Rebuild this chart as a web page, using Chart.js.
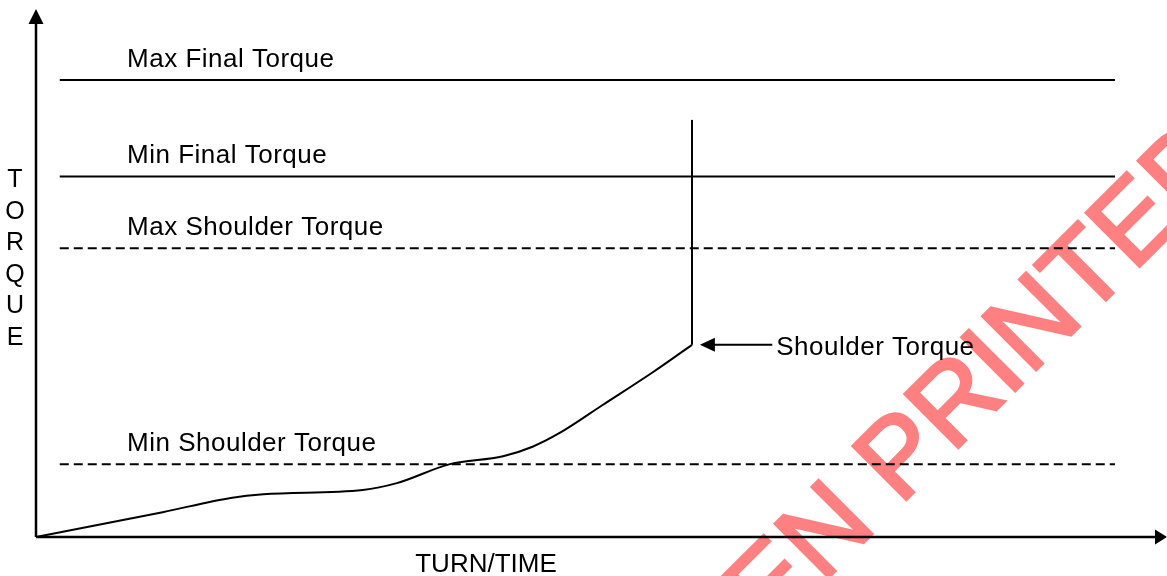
<!DOCTYPE html>
<html>
<head>
<meta charset="utf-8">
<script src="https://cdn.jsdelivr.net/npm/chart.js@4.4.1/dist/chart.umd.min.js"></script>
<style>
  html,body{margin:0;padding:0;background:#fff;}
  #wrap{width:1167px;height:576px;position:relative;}
</style>
</head>
<body>
<div id="wrap"><canvas id="chart" width="1167" height="576"></canvas></div>
<script>
// curve: turn (x) vs torque (y), axis units 0..100
const turnVals=[0,11.2,17.2,20.1,28.9,31.9,36.6,41.3,43.9,46.3,50.1,54.6,58.0];
const torqueVals=[0,4.7,7.4,8.1,8.9,10.2,13.8,15.3,17.1,19.7,25.0,31.3,36.4];
// vertical rise after the shoulder
const riseX=[58.0,58.0];
const riseY=[36.4,79.0];
// limit lines
const limitNames=["Max Final Torque","Min Final Torque","Max Shoulder Torque","Min Shoulder Torque"];
const limitVals=[86.55,68.3,54.7,13.8];
const limitDashed=[false,false,true,true];
const limitStart=2.1, limitEnd=95.4, limitLabelX=8.05;
// annotation
const shoulderLabel="Shoulder Torque";
const shoulderPoint=[58.7,36.4];
const shoulderTail=65.1;
const xTitle="TURN/TIME", yTitle="TORQUE";
const watermark1="UNCONTROLLED WHEN ", watermark2="PRINTED";

const FONT="'Liberation Sans', Arial, sans-serif";

const datasets=[];
limitVals.forEach((v,i)=>{
  datasets.push({
    label:limitNames[i],
    data:[{x:limitStart,y:v},{x:limitEnd,y:v}],
    borderColor:"#000",borderWidth:2,pointRadius:0,
    borderDash:limitDashed[i]?[9,5]:[],clip:false
  });
});
datasets.push({
  label:"curve",
  data:turnVals.map((x,i)=>({x,y:torqueVals[i]})),
  borderColor:"#000",borderWidth:2,pointRadius:0,
  cubicInterpolationMode:"monotone",clip:false
});
datasets.push({
  label:"rise",
  data:riseX.map((x,i)=>({x,y:riseY[i]})),
  borderColor:"#000",borderWidth:2,pointRadius:0,clip:false
});

function arrowHead(ctx,tx,ty,dir,len,half){
  // dir: 'up','right','left'
  ctx.beginPath();
  ctx.moveTo(tx,ty);
  if(dir==="up"){ctx.lineTo(tx-half,ty+len);ctx.lineTo(tx+half,ty+len);}
  else if(dir==="right"){ctx.lineTo(tx-len,ty-half);ctx.lineTo(tx-len,ty+half);}
  else {ctx.lineTo(tx+len,ty-half);ctx.lineTo(tx+len,ty+half);}
  ctx.closePath();ctx.fill();
}

const decor={
  id:"decor",
  beforeDraw(chart){
    const ctx=chart.ctx;
    ctx.save();
    ctx.fillStyle="#fff";ctx.fillRect(0,0,chart.width,chart.height);
    // watermark behind everything
    ctx.translate(900,506);
    ctx.rotate(-Math.PI/4);
    ctx.font="110px "+FONT;
    ctx.fillStyle="#ff8080";ctx.strokeStyle="#ff8080";
    ctx.lineWidth=3;ctx.lineJoin="miter";
    ctx.textBaseline="alphabetic";
    ctx.textAlign="right";ctx.fillText(watermark1,0,0);ctx.strokeText(watermark1,0,0);
    ctx.textAlign="left";ctx.fillText(watermark2,0,0);ctx.strokeText(watermark2,0,0);
    ctx.restore();
  },
  afterDatasetsDraw(chart){
    const ctx=chart.ctx,xs=chart.scales.x,ys=chart.scales.y,a=chart.chartArea;
    ctx.save();
    ctx.strokeStyle="#000";ctx.fillStyle="#000";
    // axes
    ctx.lineWidth=2.5;
    ctx.beginPath();
    ctx.moveTo(a.left,a.bottom);ctx.lineTo(a.left,a.top+10);
    ctx.moveTo(a.left,a.bottom);ctx.lineTo(a.right-10,a.bottom);
    ctx.stroke();
    arrowHead(ctx,a.left,a.top,"up",15,7.5);
    arrowHead(ctx,a.right,a.bottom,"right",12,7.5);
    // limit labels
    ctx.font="26px "+FONT;
    ctx.letterSpacing="0.5px";
    ctx.textAlign="left";ctx.textBaseline="alphabetic";
    limitVals.forEach((v,i)=>{
      ctx.fillText(limitNames[i],xs.getPixelForValue(limitLabelX),ys.getPixelForValue(v)-13);
    });
    // shoulder annotation
    const tx=xs.getPixelForValue(shoulderPoint[0]),ty=ys.getPixelForValue(shoulderPoint[1]);
    const ex=xs.getPixelForValue(shoulderTail);
    ctx.lineWidth=2;
    ctx.beginPath();ctx.moveTo(tx+12,ty);ctx.lineTo(ex,ty);ctx.stroke();
    arrowHead(ctx,tx,ty,"left",15,7);
    ctx.fillText(shoulderLabel,ex+4,ty+10);
    // axis titles
    ctx.letterSpacing="0px";
    ctx.textAlign="center";
    ctx.fillText(xTitle,486,572);
    ctx.font="25px "+FONT;
    yTitle.split("").forEach((ch,i)=>ctx.fillText(ch,15,187+i*31.6));
    ctx.restore();
  }
};

new Chart(document.getElementById("chart"),{
  type:"line",
  data:{datasets},
  options:{
    responsive:false,animation:false,
    layout:{padding:{left:36,right:0,top:9,bottom:39}},
    plugins:{legend:{display:false},tooltip:{enabled:false}},
    scales:{
      x:{type:"linear",min:0,max:100,display:false},
      y:{type:"linear",min:0,max:100,display:false}
    }
  },
  plugins:[decor]
});
</script>
</body>
</html>
